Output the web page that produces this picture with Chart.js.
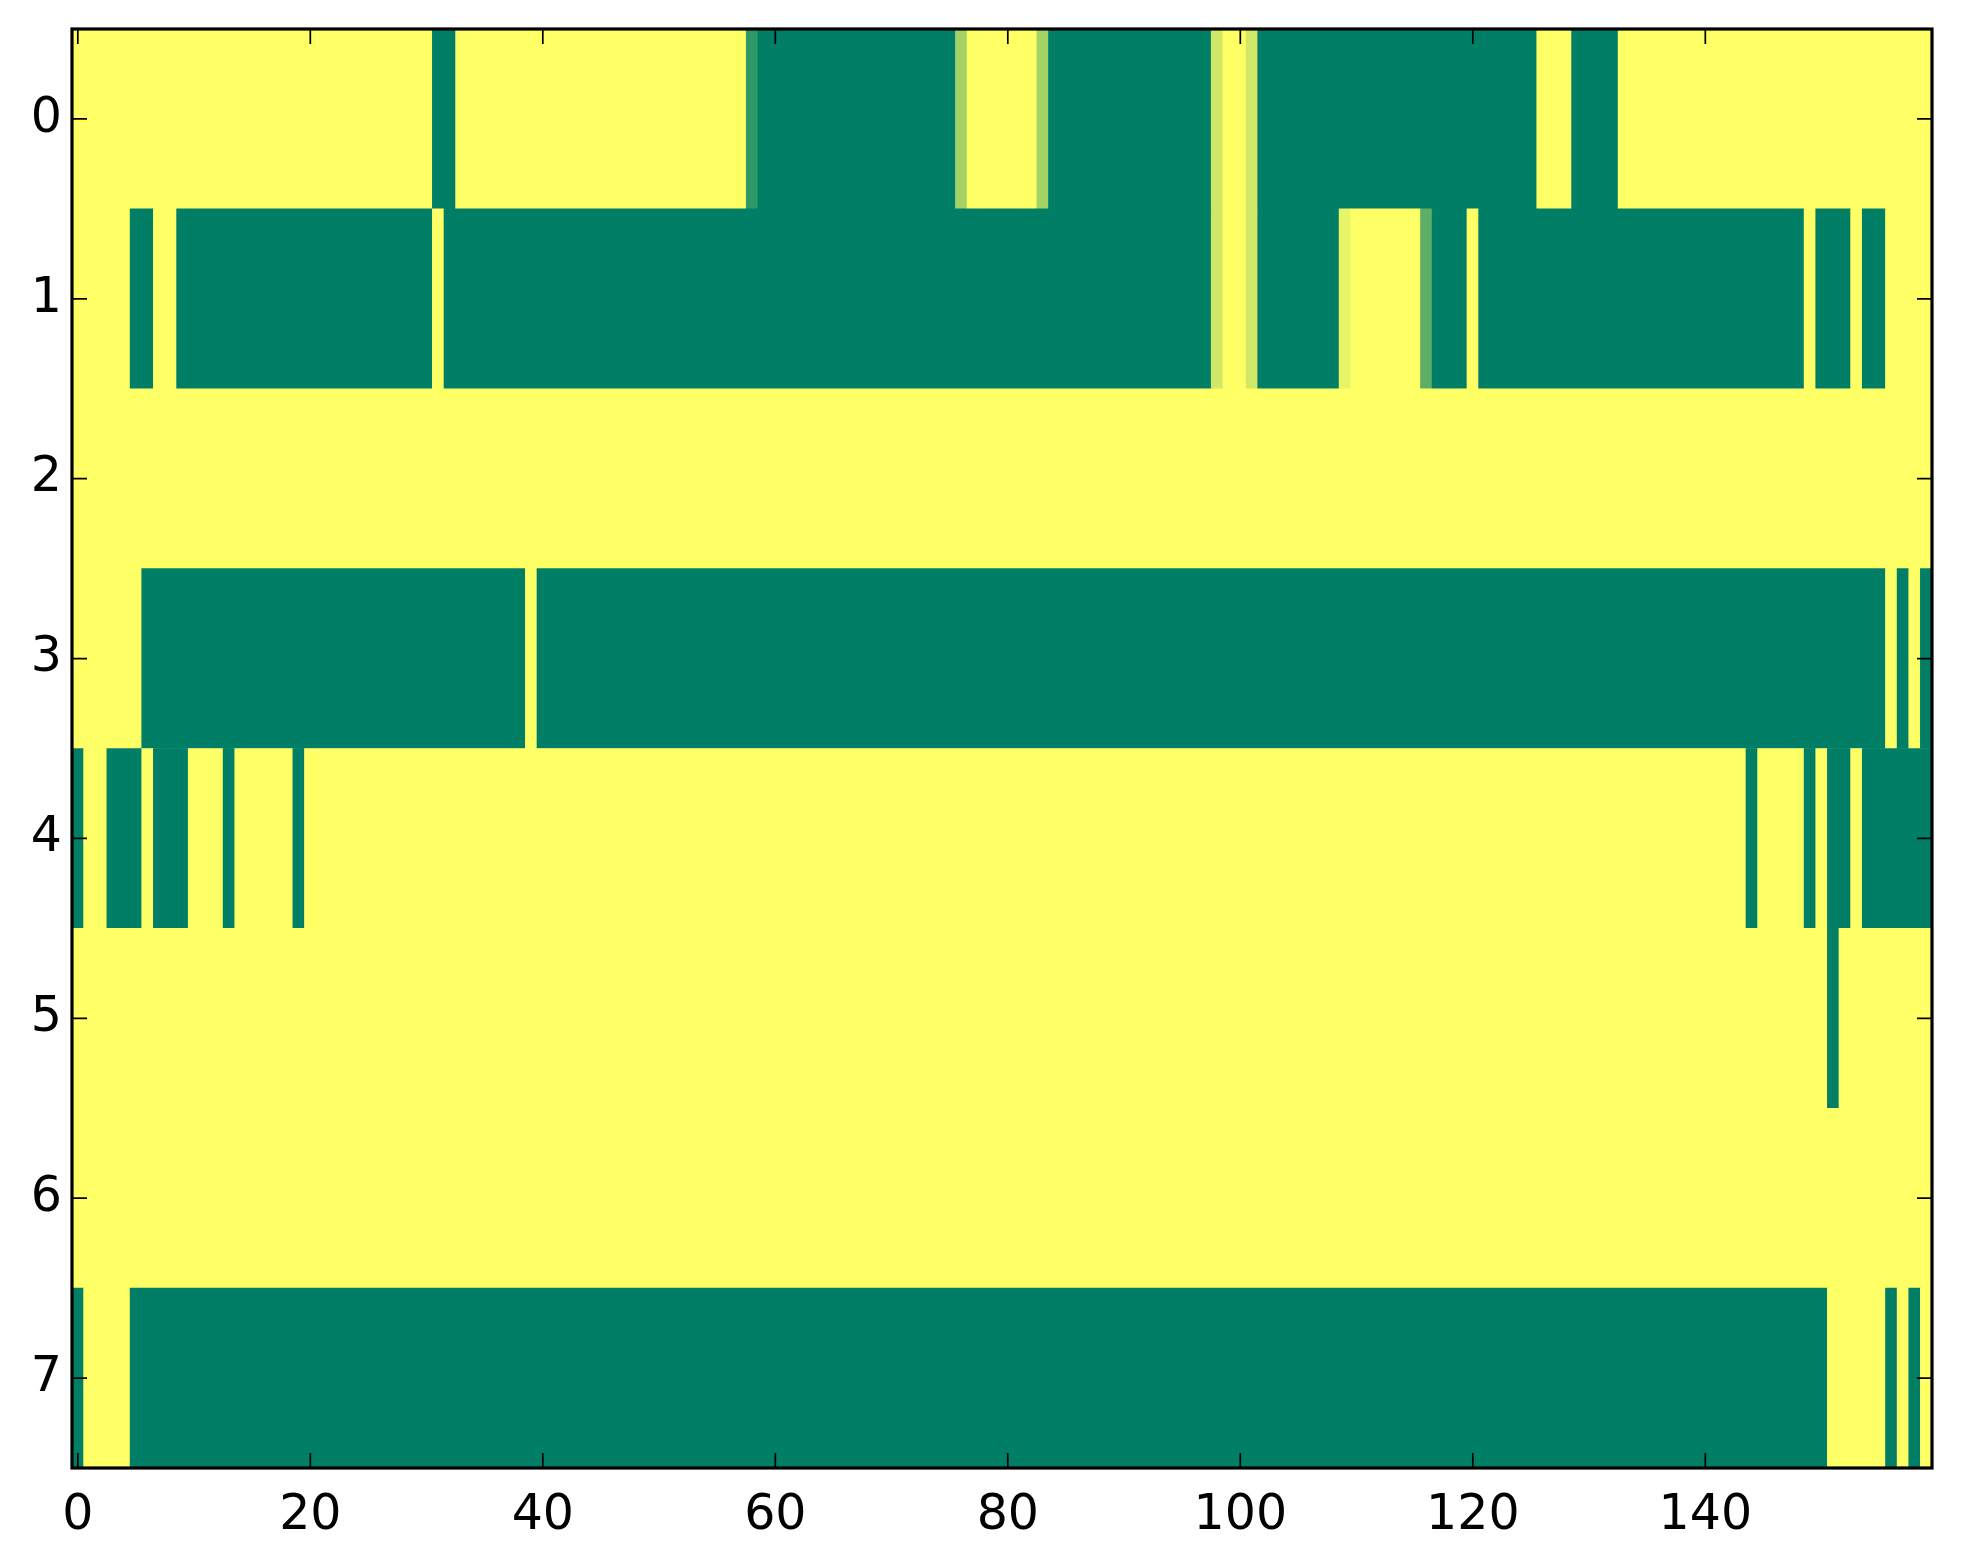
<!DOCTYPE html>
<html>
<head>
<meta charset="utf-8">
<title>heatmap</title>
<script src="https://cdn.jsdelivr.net/npm/chart.js@4/dist/chart.umd.min.js"></script>
<style>
  body { margin: 0; background: #fff; }
  #wrap { width: 1963px; height: 1564px; }
</style>
</head>
<body>
<div id="wrap"><canvas id="heat" width="1963" height="1564"></canvas></div>
<script>
// Row labels (top to bottom) and x tick labels
const rowLabels = ["0", "1", "2", "3", "4", "5", "6", "7"];
const xTickValues = [0, 20, 40, 60, 80, 100, 120, 140];
const nCols = 160;

// Each row as runs of [value, count]; value 0 = yellow, 1 = green
const row0 = [[0, 31], [1, 2], [0, 25], [0.81, 1], [1, 17], [0.35, 1], [0, 6], [0.35, 1], [1, 14], [0.18, 1], [0, 2], [0.18, 1], [1, 24], [0, 3], [1, 4], [0, 27]];
const row1 = [[0, 5], [1, 2], [0, 2], [1, 22], [0, 1], [1, 66], [0.18, 1], [0, 2], [0.18, 1], [1, 7], [0.09, 1], [0, 6], [0.63, 1], [1, 3], [0, 1], [1, 28], [0, 1], [1, 3], [0, 1], [1, 2], [0, 4]];
const row2 = [[0, 160]];
const row3 = [[0, 6], [1, 33], [0, 1], [1, 116], [0, 1], [1, 1], [0, 1], [1, 1]];
const row4 = [[1, 1], [0, 2], [1, 3], [0, 1], [1, 3], [0, 3], [1, 1], [0, 5], [1, 1], [0, 124], [1, 1], [0, 4], [1, 1], [0, 1], [1, 2], [0, 1], [1, 6]];
const row5 = [[0, 151], [1, 1], [0, 8]];
const row6 = [[0, 160]];
const row7 = [[1, 1], [0, 4], [1, 146], [0, 5], [1, 1], [0, 1], [1, 1], [0, 1]];
const rows = [row0, row1, row2, row3, row4, row5, row6, row7];

// reversed "summer" colormap: 0 -> yellow, 1 -> green
function summerR(v) {
  const t = 1 - v;
  const r = Math.floor(255 * t + 1e-9);
  const g = Math.floor(255 * (0.5 + 0.5 * t) + 1e-9);
  return "rgb(" + r + "," + g + ",102)";
}

// one floating bar per run
const cells = [];
const colors = [];
rows.forEach(function (runs, r) {
  let start = 0;
  runs.forEach(function (run) {
    cells.push({ x: [start - 0.5, start + run[1] - 0.5], y: rowLabels[r] });
    colors.push(summerR(run[0]));
    start += run[1];
  });
});

const FONT = "'DejaVu Sans', 'Liberation Sans', sans-serif";

// matplotlib-like frame with inward ticks on all sides
const framePlugin = {
  id: "frame",
  afterDraw: function (chart) {
    const ctx = chart.ctx;
    const a = chart.chartArea;
    const xs = chart.scales.x;
    const ys = chart.scales.y;
    const len = 15;
    ctx.save();
    ctx.strokeStyle = "#000";
    ctx.lineWidth = 1.7;
    ctx.beginPath();
    xTickValues.forEach(function (v) {
      const px = xs.getPixelForValue(v);
      ctx.moveTo(px, a.bottom); ctx.lineTo(px, a.bottom - len);
      ctx.moveTo(px, a.top); ctx.lineTo(px, a.top + len);
    });
    rowLabels.forEach(function (_, i) {
      const py = ys.getPixelForValue(i);
      ctx.moveTo(a.left, py); ctx.lineTo(a.left + len, py);
      ctx.moveTo(a.right, py); ctx.lineTo(a.right - len, py);
    });
    ctx.stroke();
    ctx.lineWidth = 3.2;
    ctx.strokeRect(a.left, a.top, a.right - a.left, a.bottom - a.top);
    ctx.restore();
  }
};

const heatChart = new Chart(document.getElementById("heat"), {
  type: "bar",
  data: {
    labels: rowLabels,
    datasets: [{
      data: cells,
      backgroundColor: colors,
      borderWidth: 0,
      barPercentage: 1,
      categoryPercentage: 1
    }]
  },
  options: {
    indexAxis: "y",
    responsive: false,
    animation: false,
    devicePixelRatio: 1,
    layout: { padding: { left: 0, top: 29, right: 31, bottom: 0 } },
    plugins: { legend: { display: false }, tooltip: { enabled: false } },
    scales: {
      x: {
        type: "linear",
        min: -0.5,
        max: nCols - 0.5,
        grid: { display: false, drawTicks: false },
        border: { display: false },
        afterBuildTicks: function (scale) {
          scale.ticks = xTickValues.map(function (v) { return { value: v }; });
        },
        afterFit: function (scale) {
          scale.height = 96;
          scale.paddingLeft = 0;
          scale.paddingRight = 0;
        },
        ticks: { color: "#000", padding: 19, maxRotation: 0, font: { family: FONT, size: 49 } }
      },
      y: {
        type: "category",
        grid: { display: false, drawTicks: false },
        border: { display: false },
        afterFit: function (scale) {
          scale.width = 72;
          scale.paddingTop = 0;
          scale.paddingBottom = 0;
        },
        ticks: { color: "#000", padding: 10, font: { family: FONT, size: 49 } }
      }
    }
  },
  plugins: [framePlugin]
});
</script>
</body>
</html>
